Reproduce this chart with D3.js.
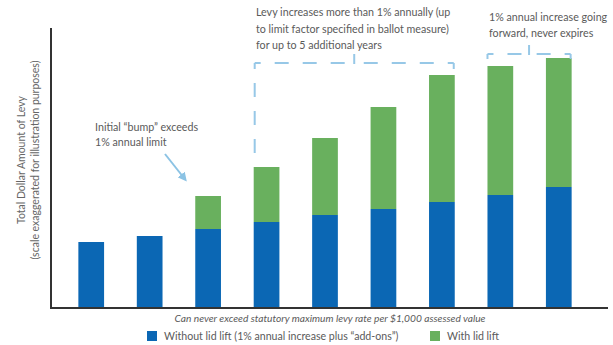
<!DOCTYPE html>
<html>
<head>
<meta charset="utf-8">
<script src="https://cdn.jsdelivr.net/npm/d3@7"></script>
<style>
  html, body { margin: 0; padding: 0; background: #fff; }
  svg { display: block; font-family: Lato, "Open Sans", sans-serif; }
</style>
</head>
<body>
<svg id="chart" width="613" height="345"></svg>
<script>
// Levy by year: base levy (1% growth plus add-ons) and extra levy from a lid lift
const years = ["Y1", "Y2", "Y3", "Y4", "Y5", "Y6", "Y7", "Y8", "Y9"];
const withoutLidLift = [66, 72, 79, 86, 93, 99, 106, 113, 121];
const lidLiftExtra = [0, 0, 33, 55, 77, 102, 127, 129, 129];
const seriesNames = ["Without lid lift (1% annual increase plus \u201cadd-ons\u201d)", "With lid lift"];
const seriesColors = ["#0b67b4", "#69b05e"];

const yTitle = ["Total Dollar Amount of Levy", "(scale exaggerated for illustration purposes)"];
const xCaption = "Can never exceed statutory maximum levy rate per $1,000 assessed value";
const bumpNote = ["Initial \u201cbump\u201d exceeds", "1% annual limit"];
const lidNote = ["Levy increases more than 1% annually (up", "to limit factor specified in ballot measure)", "for up to 5 additional years"];
const foreverNote = ["1% annual increase going", "forward, never expires"];

const svg = d3.select("#chart");
const plotBase = 308, plotTop = 28, plotLeft = 51, plotRight = 608;
const textColor = "#5a5a5a";
const bracketColor = "#97c8e7";

const x = d3.scaleBand().domain(years).range([62, 588]).paddingInner(0.56).paddingOuter(0.28);
const y = d3.scaleLinear().domain([0, 280]).range([plotBase, plotTop]);

const rows = years.map((k, i) => ({ key: k, base: withoutLidLift[i], extra: lidLiftExtra[i] }));
const stacked = d3.stack().keys(["base", "extra"])(rows);

svg.append("g").selectAll("g")
  .data(stacked).join("g")
  .attr("fill", (d, i) => seriesColors[i])
  .selectAll("rect")
  .data(d => d.filter(p => p[1] > p[0])).join("rect")
  .attr("x", d => x(d.data.key))
  .attr("width", x.bandwidth())
  .attr("y", d => y(d[1]))
  .attr("height", d => y(d[0]) - y(d[1]));

// axes (no ticks)
svg.append("line").attr("x1", plotLeft).attr("x2", plotLeft).attr("y1", plotTop).attr("y2", plotBase + 1)
  .attr("stroke", "#333").attr("stroke-width", 2);
svg.append("line").attr("x1", plotLeft - 1).attr("x2", plotRight).attr("y1", plotBase).attr("y2", plotBase)
  .attr("stroke", "#333").attr("stroke-width", 2);

// y-axis title
const yt = svg.append("text").attr("transform", "translate(25,160) rotate(-90)")
  .attr("text-anchor", "middle").attr("fill", "#666").attr("font-size", 10.5);
yTitle.forEach((t, i) => yt.append("tspan").attr("x", 0).attr("dy", i ? 14 : 0).text(t));

// caption under the axis
svg.append("text").attr("x", 330).attr("y", 322).attr("text-anchor", "middle")
  .attr("font-style", "italic").attr("fill", textColor).attr("font-size", 10.2).text(xCaption);

// legend
const legendX = [147, 430];
const lg = svg.append("g");
seriesNames.forEach((n, i) => {
  lg.append("rect").attr("x", legendX[i]).attr("y", 331).attr("width", 10).attr("height", 10)
    .attr("fill", seriesColors[i]);
  lg.append("text").attr("x", legendX[i] + 17).attr("y", 340).attr("fill", textColor)
    .attr("font-size", 10.6).text(n);
});

function multiline(lines, x0, y0, lh) {
  const t = svg.append("text").attr("fill", textColor).attr("font-size", 10.7);
  lines.forEach((s, i) => t.append("tspan").attr("x", x0).attr("y", y0 + i * lh).text(s));
}
multiline(bumpNote, 95, 131, 15);
multiline(lidNote, 256, 16, 16.5);
multiline(foreverNote, 489, 21, 16);

// arrow pointing at the first lid-lift bar
const arrowColor = "#8cc3e4";
svg.append("defs").append("marker").attr("id", "ah").attr("viewBox", "0 0 10 10")
  .attr("refX", 5).attr("refY", 5).attr("markerWidth", 4.5).attr("markerHeight", 4.5).attr("orient", "auto")
  .append("path").attr("d", "M0,0L10,5L0,10z").attr("fill", arrowColor);
svg.append("line").attr("x1", 165).attr("y1", 154).attr("x2", 184).attr("y2", 178)
  .attr("stroke", arrowColor).attr("stroke-width", 2).attr("marker-end", "url(#ah)");

// dashed brackets
function seg(x1, y1, x2, y2, off) {
  svg.append("line").attr("x1", x1).attr("y1", y1).attr("x2", x2).attr("y2", y2)
    .attr("stroke", bracketColor).attr("stroke-width", 2)
    .attr("stroke-dasharray", "14,14").attr("stroke-dashoffset", off);
}
function bracket(x1, x2, yb, leftDrop, rightDrop) {
  const xm = (x1 + x2) / 2;
  seg(x1, yb, xm - 3, yb, 8);
  seg(x2, yb, xm + 3, yb, 8);
  seg(x1, yb, x1, yb + leftDrop, 8);
  seg(x2, yb, x2, yb + rightDrop, 8);
  svg.append("line").attr("x1", xm).attr("x2", xm).attr("y1", yb - 9).attr("y2", yb + 1)
    .attr("stroke", bracketColor).attr("stroke-width", 2);
}
bracket(x("Y4") + 1, x("Y7") + x.bandwidth() - 1, 63, 92, 7);
bracket(x("Y8"), x("Y9") + x.bandwidth() - 1, 54, 5, 5);
</script>
</body>
</html>
